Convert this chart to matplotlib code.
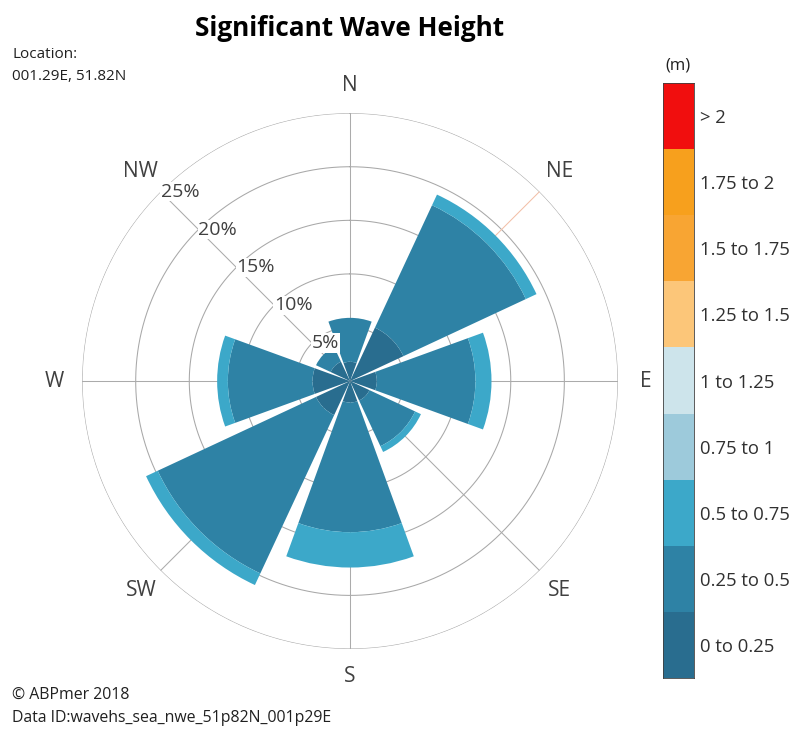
import numpy as np
import matplotlib
matplotlib.use("Agg")
import matplotlib.pyplot as plt

plt.rcParams['font.family'] = ['Open Sans', 'DejaVu Sans']

# directions (compass degrees) and labels
directions = ['N', 'NE', 'E', 'SE', 'S', 'SW', 'W', 'NW']
dir_deg = [0, 45, 90, 135, 180, 225, 270, 315]

# wave height bins (m) and their colours
bins = ['0 to 0.25', '0.25 to 0.5', '0.5 to 0.75', '0.75 to 1', '1 to 1.25',
        '1.25 to 1.5', '1.5 to 1.75', '1.75 to 2', '> 2']
bin_colors = ['#296d8f', '#2e82a5', '#3ca8c9', '#9dcadb', '#cde4eb',
              '#fcc679', '#f8a533', '#f7a01d', '#f10e0e']

# percentage of occurrence per direction, per bin
pct_0_025 = [1.8, 5.5, 2.5, 2.0, 2.0, 3.5, 3.5, 2.0]
pct_025_05 = [4.1, 12.6, 9.2, 4.7, 12.1, 16.3, 7.9, 1.5]
pct_05_075 = [0.0, 1.1, 1.5, 0.6, 3.3, 1.2, 1.0, 0.0]
pct_075_1 = [0, 0, 0, 0, 0, 0, 0, 0]
pct_1_125 = [0, 0, 0, 0, 0, 0, 0, 0]
pct_125_15 = [0, 0, 0, 0, 0, 0, 0, 0]
pct_15_175 = [0, 0, 0, 0, 0, 0, 0, 0]
pct_175_2 = [0, 0, 0, 0, 0, 0, 0, 0]
pct_gt2 = [0, 0, 0, 0, 0, 0, 0, 0]
series = [pct_0_025, pct_025_05, pct_05_075, pct_075_1, pct_1_125,
          pct_125_15, pct_15_175, pct_175_2, pct_gt2]

rings = [5, 10, 15, 20, 25]

fig = plt.figure(figsize=(7.93, 7.31), dpi=100)
ax = fig.add_axes([0.1034, 0.1122, 0.676, 0.733], projection='polar')
ax.set_theta_zero_location('N')
ax.set_theta_direction(-1)
ax.set_ylim(0, 25)
ax.grid(False)
ax.set_xticks([])
ax.set_yticks([])
ax.spines['polar'].set_visible(False)
ax.patch.set_alpha(0)

# grid circles and spokes
tt = np.linspace(0, 2 * np.pi, 400)
for r in rings:
    ax.plot(tt, np.full_like(tt, r), color='#a8a8a8', lw=0.75, zorder=1)
for d in dir_deg:
    c = '#f2c0a8' if d == 45 else '#ababab'
    ax.plot([np.radians(d)] * 2, [0, 25], color=c, lw=0.75, zorder=1)

theta = np.radians(dir_deg)
width = np.radians(40)
bottom = np.zeros(len(directions))
for vals, col in zip(series, bin_colors):
    vals = np.array(vals, dtype=float)
    ax.bar(theta, vals, width=width, bottom=bottom, color=col,
           edgecolor='none', linewidth=0, zorder=3)
    bottom += vals

# ring labels along NW spoke
for r in rings:
    ax.text(np.radians(315), r, f'{r}%', ha='left', va='center',
            fontsize=14, color='#404040', zorder=4,
            bbox=dict(facecolor='white', edgecolor='none', pad=0.5))

# direction labels
for d, lab in zip(dir_deg, directions):
    ax.text(np.radians(d), 27.6, lab, ha='center', va='center',
            fontsize=15, color='#404040')

fig.text(350 / 793, 1 - 28 / 731, 'Significant Wave Height', ha='center',
         va='center', fontsize=18.8, fontweight='bold', color='black')
fig.text(12 / 793, 1 - 55 / 731, 'Location:', ha='left', va='center',
         fontsize=11, color='#202020')
fig.text(12 / 793, 1 - 76 / 731, '001.29E, 51.82N', ha='left', va='center',
         fontsize=11, color='#202020')
fig.text(12 / 793, 1 - 695 / 731, '\u00a9 ABPmer 2018', ha='left', va='center',
         fontsize=11.4, color='#202020')
fig.text(12 / 793, 1 - 718 / 731, 'Data ID:wavehs_sea_nwe_51p82N_001p29E',
         ha='left', va='center', fontsize=11.4, color='#202020')

# colour key
cax = fig.add_axes([663 / 793, 1 - 678 / 731, 31 / 793, 595 / 731])
cax.bar(np.zeros(len(bins)), np.ones(len(bins)), bottom=np.arange(len(bins)),
        width=1, color=bin_colors, edgecolor='none')
cax.set_xlim(-0.5, 0.5)
cax.set_ylim(0, len(bins))
cax.set_xticks([])
cax.yaxis.tick_right()
cax.set_yticks(np.arange(len(bins)) + 0.5)
cax.set_yticklabels(bins, fontsize=13.3, color='#303030')
cax.tick_params(axis='y', length=0, pad=4.3)
for s in cax.spines.values():
    s.set_color('#404040')
    s.set_linewidth(0.6)
fig.text(678 / 793, 1 - 65 / 731, '(m)', ha='center', va='center',
         fontsize=12, color='#202020')

fig.savefig('out.png', dpi=100)
